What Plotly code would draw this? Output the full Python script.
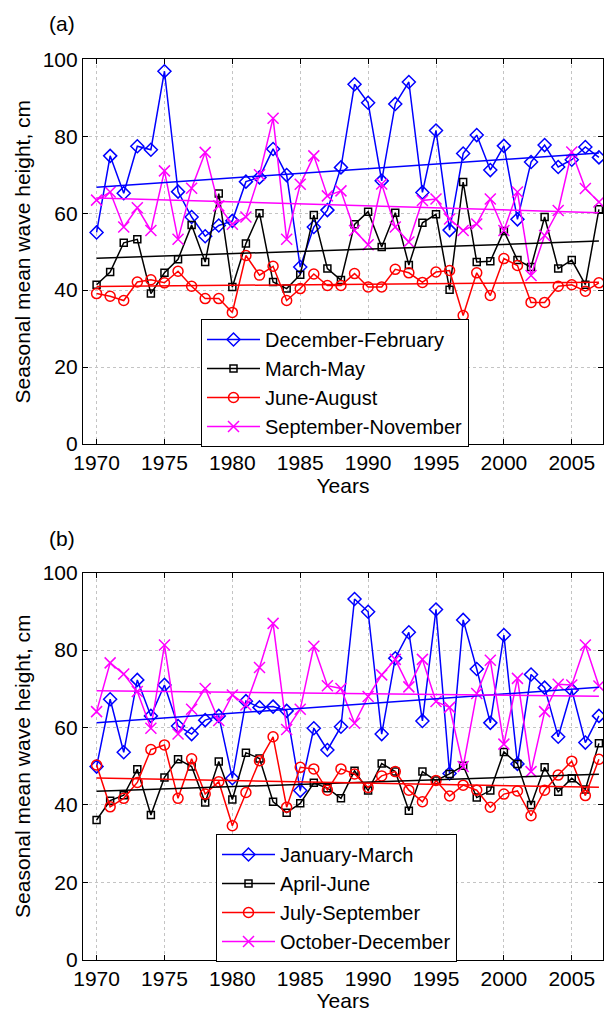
import numpy as np
import plotly.graph_objects as go

years = list(range(1970, 2008))

# Panel (a) seasons
dec_feb = [55.0, 74.9, 65.2, 77.4, 76.5, 96.9, 65.6, 59.0, 54.0, 56.8,
           58.0, 68.2, 69.3, 76.7, 69.9, 46.0, 56.4, 60.8, 71.9, 93.5,
           88.7, 68.4, 88.4, 94.1, 65.4, 81.5, 55.6, 75.5, 80.3, 71.2,
           77.5, 58.4, 73.3, 77.7, 72.0, 73.9, 77.2, 74.5]
mar_may = [41.4, 44.7, 52.3, 53.2, 39.1, 44.5, 48.0, 56.9, 47.3, 65.1,
           40.8, 52.1, 60.0, 42.1, 40.4, 44.0, 59.5, 45.6, 42.6, 57.1,
           60.4, 51.2, 60.1, 46.5, 57.5, 59.7, 40.1, 68.1, 47.3, 47.5,
           55.4, 47.8, 46.0, 59.0, 45.6, 47.8, 41.4, 61.0]
jun_aug = [39.1, 38.4, 37.3, 42.1, 42.7, 41.9, 44.9, 41.0, 37.8, 37.8,
           34.2, 49.0, 43.9, 46.2, 37.3, 40.4, 44.2, 41.2, 41.2, 44.3,
           40.8, 40.8, 45.4, 44.5, 42.0, 44.7, 45.1, 33.4, 44.5, 38.6,
           48.2, 46.4, 36.8, 36.8, 41.0, 41.4, 39.7, 41.9]
sep_nov = [63.4, 65.5, 56.4, 61.4, 55.5, 71.0, 53.2, 66.5, 75.8, 61.9,
           57.1, 59.0, 70.0, 84.7, 53.2, 67.5, 74.9, 64.5, 65.8, 55.5,
           51.8, 67.6, 56.4, 52.5, 63.3, 63.7, 58.5, 55.5, 57.2, 63.7,
           55.5, 65.5, 43.8, 54.2, 60.7, 75.9, 66.4, 62.9]

# Panel (b) seasons
jan_mar = [49.9, 67.3, 53.6, 72.3, 63.0, 71.0, 60.4, 58.3, 61.9, 63.0,
           46.9, 66.8, 65.2, 65.4, 64.3, 43.7, 59.8, 54.2, 60.2, 93.2,
           89.9, 58.3, 77.9, 84.6, 61.7, 90.5, 48.1, 87.8, 75.1, 61.2,
           83.9, 50.6, 73.7, 70.3, 57.6, 69.7, 56.1, 63.0]
apr_jun = [36.1, 41.1, 42.5, 49.2, 37.4, 47.1, 51.8, 49.9, 40.6, 51.2,
           41.4, 53.5, 52.0, 40.8, 38.0, 40.4, 45.7, 44.3, 41.7, 48.8,
           43.7, 50.7, 48.6, 38.5, 48.6, 46.3, 48.0, 50.1, 41.9, 43.7,
           53.7, 50.6, 40.0, 49.7, 43.4, 46.9, 44.0, 55.9]
jul_sep = [50.3, 39.5, 41.7, 45.8, 54.3, 55.5, 41.7, 51.9, 42.8, 46.0,
           34.6, 43.2, 51.4, 57.6, 39.4, 49.7, 49.3, 43.8, 49.3, 48.0,
           44.5, 47.5, 48.6, 43.8, 40.8, 46.3, 42.3, 45.1, 43.8, 39.4,
           42.8, 43.6, 37.2, 43.8, 47.7, 51.3, 42.4, 51.8]
oct_dec = [64.1, 76.7, 73.8, 69.3, 59.8, 81.3, 58.3, 64.7, 70.1, 61.8,
           68.4, 65.8, 75.5, 86.9, 59.5, 64.7, 81.0, 70.8, 70.1, 61.1,
           68.0, 73.6, 77.6, 70.5, 77.6, 66.7, 65.2, 49.9, 68.8, 77.4,
           55.7, 72.7, 48.6, 64.1, 71.2, 71.0, 81.3, 70.7]

names_a = ["December-February", "March-May", "June-August", "September-November"]
names_b = ["January-March", "April-June", "July-September", "October-December"]
colors = ["#0000FF", "#000000", "#FF0000", "#FF00FF"]
symbols = ["diamond-open", "square-open", "circle-open", "x-thin-open"]
sizes = [10, 7, 10, 11]

x_ticks = [1970, 1975, 1980, 1985, 1990, 1995, 2000, 2005]
y_ticks = [0, 20, 40, 60, 80, 100]

FONT = "Liberation Sans, Arial, sans-serif"
fig = go.Figure()

panels = [
    ("x", "y", "legend", names_a, [dec_feb, mar_may, jun_aug, sep_nov]),
    ("x2", "y2", "legend2", names_b, [jan_mar, apr_jun, jul_sep, oct_dec]),
]
for xa, ya, leg, names, series in panels:
    for i, vals in enumerate(series):
        fig.add_trace(go.Scatter(
            x=years, y=vals, mode="lines+markers", name=names[i],
            xaxis=xa, yaxis=ya, legend=leg,
            line=dict(color=colors[i], width=1.5),
            marker=dict(symbol=symbols[i], size=sizes[i], color=colors[i],
                        line=dict(color=colors[i], width=1.5)),
        ))
    for i, vals in enumerate(series):
        k, b = np.polyfit(years, vals, 1)
        xt = [years[0], years[-1]]
        fig.add_trace(go.Scatter(
            x=xt, y=[k * xt[0] + b, k * xt[1] + b], mode="lines",
            xaxis=xa, yaxis=ya, showlegend=False, hoverinfo="skip",
            line=dict(color=colors[i], width=1.5),
        ))

W, H = 607, 1012
xdom = [83 / W, 603 / W]
ydom_a = [1 - 444 / H, 1 - 59.3 / H]
ydom_b = [1 - 959.7 / H, 1 - 572.7 / H]

axis_common = dict(
    showline=True, linecolor="black", linewidth=1.2, mirror="ticks",
    ticks="inside", ticklen=5, tickcolor="black", tickwidth=1,
    showgrid=True, gridcolor="#c4c4c4", griddash="dot", gridwidth=1,
    zeroline=False, tickfont=dict(family=FONT, size=21, color="black"),
    automargin=False,
)

def xaxis(dom, anchor):
    return dict(axis_common, domain=xdom, anchor=anchor, range=[1969, 2007.3],
                tickvals=x_ticks,
                title=dict(text="Years", standoff=2,
                           font=dict(family=FONT, size=21, color="black")))

def yaxis(dom, anchor):
    return dict(axis_common, domain=dom, anchor=anchor, range=[0, 100],
                tickvals=y_ticks,
                title=dict(text="Seasonal mean wave height, cm", standoff=6,
                           font=dict(family=FONT, size=21, color="black")))

legend_common = dict(
    xanchor="left", yanchor="top", bgcolor="white", bordercolor="black",
    borderwidth=1, font=dict(family=FONT, size=20, color="black"),
    itemwidth=53, tracegroupgap=0,
)

fig.update_layout(
    width=W, height=H, margin=dict(l=0, r=0, t=0, b=0),
    paper_bgcolor="white", plot_bgcolor="white",
    font=dict(family=FONT, size=21, color="black"),
    xaxis=xaxis(xdom, "y"), yaxis=yaxis(ydom_a, "x"),
    xaxis2=xaxis(xdom, "y2"), yaxis2=yaxis(ydom_b, "x2"),
    legend=dict(legend_common, x=201 / W, y=1 - 319 / H),
    legend2=dict(legend_common, x=216 / W, y=1 - 834 / H),
    showlegend=True,
    annotations=[
        dict(text="(a)", x=47 / W, y=1 - 24 / H, xref="paper", yref="paper",
             xanchor="left", yanchor="middle", showarrow=False,
             font=dict(family=FONT, size=21, color="black")),
        dict(text="(b)", x=47 / W, y=1 - 538 / H, xref="paper", yref="paper",
             xanchor="left", yanchor="middle", showarrow=False,
             font=dict(family=FONT, size=21, color="black")),
    ],
)

fig.write_html(
    "out.html",
    config={"displayModeBar": False},
    post_script="document.body.style.margin='0';document.body.style.overflow='hidden';",
)
